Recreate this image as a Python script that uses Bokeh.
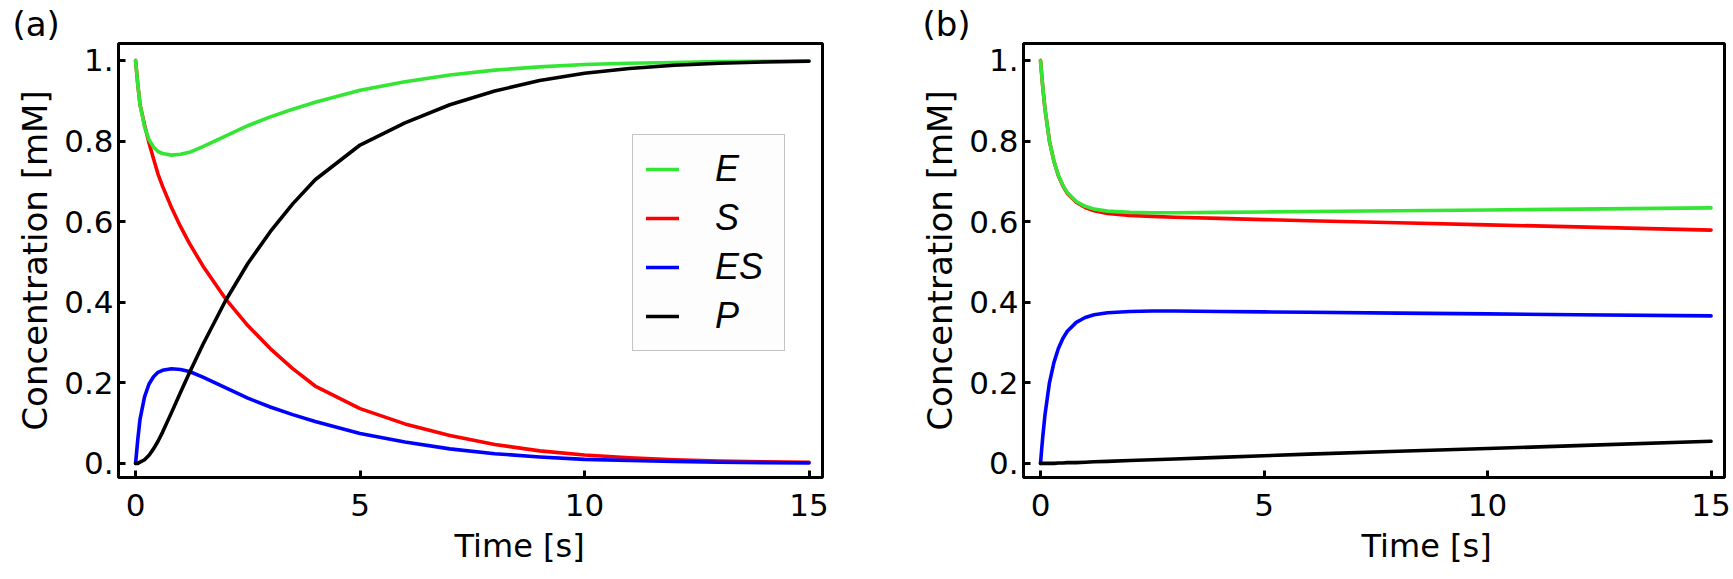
from bokeh.plotting import figure
from bokeh.layouts import row
from bokeh.models import Range1d, FixedTicker, Legend, LegendItem, Title
from bokeh.embed import file_html
from bokeh.resources import INLINE

# ---------------- data ----------------
# panel (a)
t_a = [0, 0.05, 0.1, 0.2, 0.3, 0.4, 0.5, 0.6, 0.8, 1.0, 1.2, 1.5, 2.0, 2.5, 3.0, 3.5, 4.0,
       5, 6, 7, 8, 9, 10, 11, 12, 13, 14, 15]
E_a = [1.0, 0.94, 0.89, 0.835, 0.803, 0.785, 0.774, 0.769, 0.765, 0.767, 0.772, 0.786, 0.812,
       0.838, 0.86, 0.879, 0.896, 0.926, 0.947, 0.964, 0.976, 0.984, 0.99, 0.993, 0.995, 0.997,
       0.998, 0.999]
S_a = [1.0, 0.94, 0.89, 0.84, 0.795, 0.756, 0.718, 0.688, 0.635, 0.588, 0.546, 0.49, 0.409,
       0.342, 0.285, 0.235, 0.192, 0.136, 0.098, 0.069, 0.047, 0.031, 0.021, 0.014, 0.009, 0.006,
       0.004, 0.003]
ES_a = [0.0, 0.06, 0.11, 0.165, 0.197, 0.215, 0.226, 0.231, 0.235, 0.233, 0.228, 0.214, 0.188,
        0.162, 0.14, 0.121, 0.104, 0.074, 0.053, 0.036, 0.024, 0.016, 0.01, 0.007, 0.005, 0.003,
        0.002, 0.001]
P_a = [0.0, 0.0, 0.003, 0.009, 0.02, 0.036, 0.055, 0.077, 0.126, 0.176, 0.225, 0.295, 0.403,
       0.496, 0.575, 0.644, 0.704, 0.79, 0.845, 0.89, 0.924, 0.95, 0.968, 0.98, 0.988, 0.993,
       0.996, 0.998]

# panel (b)
t_b = [0, 0.05, 0.1, 0.2, 0.3, 0.4, 0.5, 0.6, 0.8, 1.0, 1.2, 1.5, 2.0, 2.5, 3, 4, 5, 6, 8,
       10, 12, 15]
E_b = [1.0, 0.935, 0.88, 0.8, 0.75, 0.715, 0.69, 0.672, 0.65, 0.638, 0.631, 0.626, 0.623,
       0.622, 0.622, 0.623, 0.624, 0.625, 0.627, 0.629, 0.631, 0.634]
S_b = [1.0, 0.935, 0.88, 0.8, 0.75, 0.714, 0.689, 0.67, 0.648, 0.635, 0.627, 0.62, 0.615,
       0.613, 0.611, 0.608, 0.605, 0.602, 0.597, 0.592, 0.587, 0.579]
ES_b = [0.0, 0.065, 0.12, 0.2, 0.25, 0.285, 0.31, 0.328, 0.35, 0.362, 0.369, 0.374, 0.377,
        0.378, 0.378, 0.377, 0.376, 0.375, 0.373, 0.371, 0.369, 0.366]
P_b = [0.0, 0.0, 0.0, 0.0, 0.0, 0.001, 0.001, 0.002, 0.002, 0.003, 0.004, 0.005, 0.007,
       0.009, 0.011, 0.015, 0.019, 0.023, 0.03, 0.037, 0.044, 0.055]

x_ticks = [0, 5, 10, 15]
y_ticks = [0, 0.2, 0.4, 0.6, 0.8, 1.0]
y_tick_labels = ["0.", "0.2", "0.4", "0.6", "0.8", "1."]
series_names = ["E", "S", "ES", "P"]

# ---------------- styling ----------------
FONT = "DejaVu Sans"
TICK_FS = "31px"
COLORS = {"E": "#33e633", "S": "#ff0000", "ES": "#0000ff", "P": "#000000"}
LW = 3.6


def make_fig(width, left, right, panel_label, label_dx, xlabel_dx):
    p = figure(width=width, height=579, output_backend="svg", toolbar_location=None,
               x_range=Range1d(-0.38, 15.3), y_range=Range1d(-0.035, 1.042),
               min_border_left=left, min_border_right=right,
               min_border_top=43, min_border_bottom=102)
    p.grid.visible = False
    p.outline_line_color = "black"
    p.outline_line_width = 3
    p.background_fill_color = "white"
    p.border_fill_color = "white"

    p.xaxis.ticker = FixedTicker(ticks=x_ticks)
    p.yaxis.ticker = FixedTicker(ticks=y_ticks)
    p.yaxis.major_label_overrides = {v: s for v, s in zip(y_ticks, y_tick_labels)}
    for ax in (p.xaxis[0], p.yaxis[0]):
        ax.axis_line_color = None
        ax.major_tick_in = 7
        ax.major_tick_out = 0
        ax.major_tick_line_width = 3
        ax.major_tick_line_color = "black"
        ax.minor_tick_line_color = None
        ax.major_label_text_font = FONT
        ax.major_label_text_font_size = TICK_FS
        ax.major_label_text_color = "black"
        ax.axis_label_text_font = FONT
        ax.axis_label_text_font_size = "34px"
        ax.axis_label_text_font_style = "normal"
        ax.axis_label_text_color = "black"
    p.yaxis.axis_label = "Concentration [mM]"
    p.xaxis.major_label_standoff = 16
    p.yaxis.major_label_standoff = 5
    p.yaxis.axis_label_standoff = 6

    # x-axis label, shifted right of the frame centre as in the original
    p.add_layout(Title(text="Time [s]", align="left", offset=xlabel_dx, standoff=12,
                       text_font=FONT, text_font_size="32px", text_font_style="normal",
                       text_color="black"), "below")

    # panel label
    p.title.text = panel_label
    p.title.align = "left"
    p.title.offset = label_dx
    p.title.standoff = 0
    p.title.text_font = FONT
    p.title.text_font_size = "34px"
    p.title.text_font_style = "normal"
    p.title.text_color = "black"
    return p


def draw(p, t, E, S, ES, P):
    data = {"E": E, "S": S, "ES": ES, "P": P}
    rends = {}
    for name in ["S", "E", "ES", "P"]:
        rends[name] = p.line(t, data[name], line_color=COLORS[name], line_width=LW,
                             line_join="round", line_cap="round")
    return rends


pa = make_fig(866, 118, 44, "(a)", -106, 336)
ra = draw(pa, t_a, E_a, S_a, ES_a, P_a)
legend = Legend(items=[LegendItem(label=n, renderers=[ra[n]]) for n in series_names],
                location=(514, 126), orientation="vertical",
                label_text_font="Liberation Sans", label_text_font_size="36px",
                label_text_font_style="italic", label_text_color="black",
                glyph_width=33, glyph_height=42, label_height=42, label_width=56,
                label_standoff=36, spacing=7, padding=13, margin=0,
                border_line_color="#8c8c8c", border_line_width=1.5,
                background_fill_color="#fdfdfd", background_fill_alpha=1.0)
pa.add_layout(legend, "center")

pb = make_fig(867, 157, 9, "(b)", -101, 338)
draw(pb, t_b, E_b, S_b, ES_b, P_b)

layout = row(pa, pb)
open("out.html", "w").write(file_html(layout, INLINE))
